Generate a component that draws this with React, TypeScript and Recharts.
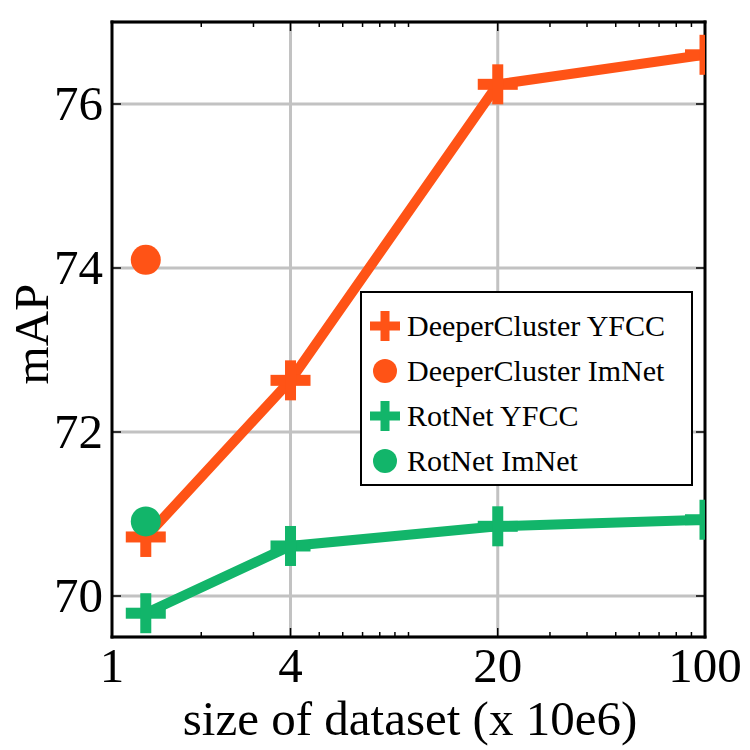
import React from "react";
import { CartesianGrid, ComposedChart, Line, XAxis, YAxis } from "recharts";

// dataset sizes (millions of images) and mAP per method
const sizes = [1.3, 4, 20, 100];
const deeperClusterYfcc = [70.72, 72.63, 76.24, 76.6];
const rotNetYfcc = [69.79, 70.61, 70.85, 70.93];
const imNetSize = [1.3];
const deeperClusterImNet = [74.1];
const rotNetImNet = [70.91];

const majorXTicks = [1, 4, 20, 100];
const minorXTicks = [2, 3, 5, 6, 7, 8, 9, 10, 30, 40, 50, 60, 70, 80, 90];
const allXTicks = [...majorXTicks, ...minorXTicks].sort((a, b) => a - b);
const gridX = [4, 20];
const yTicks = [70, 72, 74, 76];

const ORANGE = "#ff5316";
const GREEN = "#12b56a";
const FONT = "'Liberation Serif', 'Times New Roman', serif";
const FRAME = { stroke: "#000", strokeWidth: 3, strokeLinecap: "square" as const };

const toPoints = (xs: number[], ys: number[]) => xs.map((x, i) => ({ x, y: ys[i] }));

function PlusMark({ cx, cy, color, size = 40, thick = 11 }: any) {
  if (cx == null || cy == null) return null;
  return (
    <g>
      <rect x={cx - size / 2} y={cy - thick / 2} width={size} height={thick} fill={color} />
      <rect x={cx - thick / 2} y={cy - size / 2} width={thick} height={size} fill={color} />
    </g>
  );
}

function BottomTick({ x, y, payload }: any) {
  const major = majorXTicks.includes(payload.value);
  return (
    <g>
      <line x1={x} x2={x} y1={y} y2={y - (major ? 9 : 5)} stroke="#000" strokeWidth={1.5} />
      {major && (
        <text x={x} y={y + 45} textAnchor="middle" fontSize={49} fontFamily={FONT} fill="#000">
          {payload.value}
        </text>
      )}
    </g>
  );
}

function TopTick({ x, y, payload }: any) {
  const major = majorXTicks.includes(payload.value);
  return <line x1={x} x2={x} y1={y} y2={y + (major ? 9 : 5)} stroke="#000" strokeWidth={1.5} />;
}

function LeftTick({ x, y, payload }: any) {
  return (
    <g>
      <line x1={x} x2={x + 9} y1={y} y2={y} stroke="#000" strokeWidth={1.5} />
      <text x={x - 9} y={y + 16} textAnchor="end" fontSize={49} fontFamily={FONT} fill="#000">
        {payload.value}
      </text>
    </g>
  );
}

function RightTick({ x, y }: any) {
  return <line x1={x} x2={x - 9} y1={y} y2={y} stroke="#000" strokeWidth={1.5} />;
}

function LegendBox() {
  const rows = [
    { label: "DeeperCluster YFCC", color: ORANGE, shape: "plus" },
    { label: "DeeperCluster ImNet", color: ORANGE, shape: "circle" },
    { label: "RotNet YFCC", color: GREEN, shape: "plus" },
    { label: "RotNet ImNet", color: GREEN, shape: "circle" }
  ];
  return (
    <div
      style={{
        position: "absolute",
        left: 360,
        top: 291,
        width: 333,
        height: 195,
        border: "2px solid #000",
        background: "#fff",
        paddingTop: 10,
        boxSizing: "border-box",
        fontFamily: FONT,
        fontSize: 30,
        color: "#000"
      }}
    >
      {rows.map((r) => (
        <div key={r.label} style={{ display: "flex", alignItems: "center", height: 45 }}>
          <svg width={34} height={34} style={{ marginLeft: 6, marginRight: 5 }}>
            {r.shape === "plus" ? (
              <PlusMark cx={17} cy={17} color={r.color} size={30} thick={9} />
            ) : (
              <circle cx={17} cy={17} r={12} fill={r.color} />
            )}
          </svg>
          <span style={{ lineHeight: "45px" }}>{r.label}</span>
        </div>
      ))}
    </div>
  );
}

export default function App() {
  const gridGen = ({ xAxis }: any) => {
    if (!xAxis || !xAxis.scale) return [];
    const s = xAxis.scale;
    return gridX.map((v) => (typeof s === "function" ? s(v) : s.map(v)));
  };

  return (
    <div style={{ position: "absolute", left: 0, top: 0, width: 750, height: 750, background: "#fff" }}>
      <ComposedChart width={750} height={750} margin={{ top: 21, right: 44, left: 0, bottom: 0 }}>
        <CartesianGrid stroke="#c2c2c2" strokeWidth={3} verticalCoordinatesGenerator={gridGen} />
        <XAxis
          dataKey="x"
          type="number"
          scale="log"
          domain={[1, 100]}
          allowDataOverflow
          ticks={allXTicks}
          interval={0}
          height={113}
          tickSize={0}
          tickMargin={0}
          tickLine={false}
          axisLine={FRAME}
          tick={<BottomTick />}
          label={{
            content: () => (
              <text x={410} y={735} textAnchor="middle" fontSize={49} fontFamily={FONT} fill="#000">
                size of dataset (x 10e6)
              </text>
            )
          }}
        />
        <XAxis
          xAxisId="top"
          orientation="top"
          dataKey="x"
          type="number"
          scale="log"
          domain={[1, 100]}
          allowDataOverflow
          ticks={allXTicks}
          interval={0}
          height={1}
          tickSize={0}
          tickMargin={0}
          tickLine={false}
          axisLine={FRAME}
          tick={<TopTick />}
        />
        <YAxis
          type="number"
          domain={[69.5, 77]}
          allowDataOverflow
          ticks={yTicks}
          interval={0}
          width={112}
          tickSize={0}
          tickMargin={0}
          tickLine={false}
          axisLine={FRAME}
          tick={<LeftTick />}
          label={{
            content: () => (
              <text
                x={0}
                y={0}
                transform="translate(48,334) rotate(-90)"
                textAnchor="middle"
                fontSize={49}
                fontFamily={FONT}
                fill="#000"
              >
                mAP
              </text>
            )
          }}
        />
        <YAxis
          yAxisId="right"
          orientation="right"
          type="number"
          domain={[69.5, 77]}
          allowDataOverflow
          ticks={yTicks}
          interval={0}
          width={1}
          tickSize={0}
          tickMargin={0}
          tickLine={false}
          axisLine={FRAME}
          tick={<RightTick />}
        />
        <Line
          data={toPoints(sizes, deeperClusterYfcc)}
          dataKey="y"
          stroke={ORANGE}
          strokeWidth={10}
          isAnimationActive={false}
          dot={(p: any) => <PlusMark key={`dc-${p.index}`} cx={p.cx} cy={p.cy} color={ORANGE} />}
          activeDot={false}
        />
        <Line
          data={toPoints(sizes, rotNetYfcc)}
          dataKey="y"
          stroke={GREEN}
          strokeWidth={10}
          isAnimationActive={false}
          dot={(p: any) => <PlusMark key={`rn-${p.index}`} cx={p.cx} cy={p.cy} color={GREEN} />}
          activeDot={false}
        />
        <Line
          data={toPoints(imNetSize, deeperClusterImNet)}
          dataKey="y"
          stroke="none"
          isAnimationActive={false}
          dot={(p: any) => <circle key={`dci-${p.index}`} cx={p.cx} cy={p.cy} r={15} fill={ORANGE} />}
          activeDot={false}
        />
        <Line
          xAxisId="top"
          yAxisId="right"
          data={toPoints(imNetSize, rotNetImNet)}
          dataKey="y"
          stroke="none"
          isAnimationActive={false}
          dot={(p: any) => <circle key={`rni-${p.index}`} cx={p.cx} cy={p.cy} r={15} fill={GREEN} />}
          activeDot={false}
        />
      </ComposedChart>
      <LegendBox />
    </div>
  );
}
